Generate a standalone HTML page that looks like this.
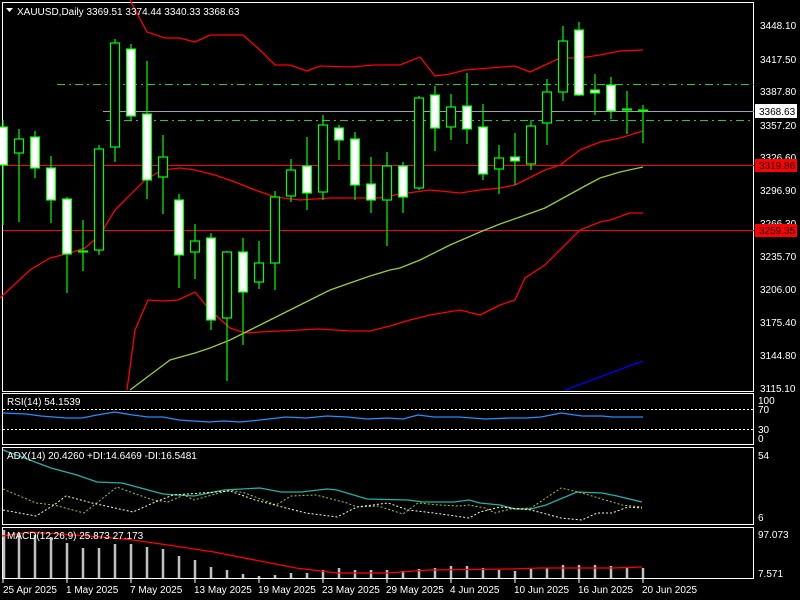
<!DOCTYPE html>
<html><head><meta charset="utf-8"><style>
html,body{margin:0;padding:0;background:#000;}
svg{display:block;font-family:"Liberation Sans",sans-serif;font-size:10px;}
</style></head><body>
<svg width="800" height="600" viewBox="0 0 800 600" xmlns="http://www.w3.org/2000/svg">
<rect width="800" height="600" fill="#000"/>
<!-- panel borders -->
<g fill="none" stroke="#fff" stroke-width="1">
<rect x="2.5" y="2.5" width="751" height="389"/>
<rect x="2.5" y="393.5" width="751" height="51"/>
<rect x="2.5" y="447.5" width="751" height="77"/>
<rect x="2.5" y="527.5" width="751" height="51"/>
</g>
<!-- horizontal levels -->
<line x1="103" y1="111.5" x2="754" y2="111.5" stroke="#a0a0a8" stroke-width="1"/>
<line x1="57" y1="84.5" x2="754" y2="84.5" stroke="#22cc22" stroke-dasharray="8,4,2,4"/>
<line x1="106" y1="120.5" x2="754" y2="120.5" stroke="#22cc22" stroke-dasharray="8,4,2,4"/>
<line x1="3" y1="165.5" x2="754" y2="165.5" stroke="#ff0000"/>
<line x1="3" y1="230.5" x2="754" y2="230.5" stroke="#ff0000"/>
<!-- bands -->
<g fill="none" stroke-width="1.3">
<polyline stroke="#ff0000" points="130,0 147,32 165,38 180,38 195,42 210,35 243,35 260,50 275,65 290,65 307,71 320,66 350,67 375,65 400,65 420,57 435,76 450,74 465,70 515,66 530,72 560,58 580,58 600,55 620,51 643,50"/>
<polyline stroke="#ff0000" points="0,298 30,270 50,258 70,253 85,248 100,235 115,210 125,200 145,180 162,170 180,168 195,170 215,175 235,182 255,190 275,197 300,200 330,198 380,198 400,194 430,190 460,193 480,190 500,188 515,185 545,170 560,165 580,150 600,142 620,138 643,131"/>
<polyline stroke="#ff0000" points="127,390 135,330 148,300 163,301 178,300 195,292 210,310 230,328 245,333 260,332 280,331 300,330 320,329 350,331 370,331 390,326 410,320 430,315 460,310 480,315 500,305 515,300 525,278 545,265 565,245 580,230 600,222 610,220 630,213 643,213"/>
<polyline stroke="#9acd32" points="130,390 150,375 170,360 195,353 210,348 230,340 250,330 270,320 290,310 310,300 330,290 350,283 370,276 390,270 400,268 420,260 450,245 480,232 500,224 520,217 545,208 565,197 585,186 600,178 620,172 643,167"/>
<polyline stroke="#0000ff" points="565,390 600,377 643,361"/>
</g>
<!-- candles -->
<g stroke="#00ff00" stroke-width="1.2">
<line x1="3" y1="120" x2="3" y2="225"/><rect x="-1.5" y="127" width="9" height="38" fill="#fff"/>
<line x1="19" y1="129" x2="19" y2="222"/><rect x="14.5" y="139" width="9" height="14" fill="#000"/>
<line x1="35" y1="131" x2="35" y2="178"/><rect x="30.5" y="137" width="9" height="31" fill="#fff"/>
<line x1="51" y1="156" x2="51" y2="223"/><rect x="46.5" y="168" width="9" height="32" fill="#fff"/>
<line x1="67" y1="197" x2="67" y2="293"/><rect x="62.5" y="199" width="9" height="55" fill="#fff"/>
<line x1="83" y1="220" x2="83" y2="271"/><rect x="78.5" y="251" width="9" height="1" fill="#000"/>
<line x1="99" y1="145" x2="99" y2="255"/><rect x="94.5" y="149" width="9" height="101" fill="#000"/>
<line x1="115" y1="39" x2="115" y2="162"/><rect x="110.5" y="43" width="9" height="104" fill="#000"/>
<line x1="131" y1="44" x2="131" y2="121"/><rect x="126.5" y="49" width="9" height="67" fill="#fff"/>
<line x1="147" y1="61" x2="147" y2="199"/><rect x="142.5" y="114" width="9" height="66" fill="#fff"/>
<line x1="163" y1="135" x2="163" y2="214"/><rect x="158.5" y="157" width="9" height="20" fill="#000"/>
<line x1="179" y1="194" x2="179" y2="288"/><rect x="174.5" y="200" width="9" height="55" fill="#fff"/>
<line x1="195" y1="224" x2="195" y2="279"/><rect x="190.5" y="241" width="9" height="11" fill="#000"/>
<line x1="211" y1="233" x2="211" y2="330"/><rect x="206.5" y="238" width="9" height="82" fill="#fff"/>
<line x1="227" y1="251" x2="227" y2="381"/><rect x="222.5" y="252" width="9" height="66" fill="#000"/>
<line x1="243" y1="238" x2="243" y2="345"/><rect x="238.5" y="252" width="9" height="40" fill="#fff"/>
<line x1="259" y1="241" x2="259" y2="289"/><rect x="254.5" y="263" width="9" height="19" fill="#000"/>
<line x1="275" y1="191" x2="275" y2="290"/><rect x="270.5" y="197" width="9" height="66" fill="#000"/>
<line x1="291" y1="159" x2="291" y2="202"/><rect x="286.5" y="170" width="9" height="26" fill="#000"/>
<line x1="307" y1="137" x2="307" y2="210"/><rect x="302.5" y="166" width="9" height="27" fill="#fff"/>
<line x1="323" y1="115" x2="323" y2="200"/><rect x="318.5" y="125" width="9" height="67" fill="#000"/>
<line x1="339" y1="125" x2="339" y2="160"/><rect x="334.5" y="128" width="9" height="12" fill="#fff"/>
<line x1="355" y1="132" x2="355" y2="200"/><rect x="350.5" y="139" width="9" height="46" fill="#fff"/>
<line x1="371" y1="157" x2="371" y2="213"/><rect x="366.5" y="184" width="9" height="16" fill="#fff"/>
<line x1="387" y1="152" x2="387" y2="246"/><rect x="382.5" y="166" width="9" height="34" fill="#000"/>
<line x1="403" y1="162" x2="403" y2="213"/><rect x="398.5" y="166" width="9" height="31" fill="#fff"/>
<line x1="419" y1="96" x2="419" y2="190"/><rect x="414.5" y="98" width="9" height="90" fill="#000"/>
<line x1="435" y1="86" x2="435" y2="151"/><rect x="430.5" y="95" width="9" height="33" fill="#fff"/>
<line x1="451" y1="94" x2="451" y2="140"/><rect x="446.5" y="107" width="9" height="20" fill="#000"/>
<line x1="467" y1="73" x2="467" y2="144"/><rect x="462.5" y="106" width="9" height="23" fill="#fff"/>
<line x1="483" y1="104" x2="483" y2="180"/><rect x="478.5" y="127" width="9" height="47" fill="#fff"/>
<line x1="499" y1="145" x2="499" y2="194"/><rect x="494.5" y="158" width="9" height="11" fill="#000"/>
<line x1="515" y1="133" x2="515" y2="185"/><rect x="510.5" y="157" width="9" height="4" fill="#fff"/>
<line x1="531" y1="120" x2="531" y2="170"/><rect x="526.5" y="126" width="9" height="38" fill="#000"/>
<line x1="547" y1="79" x2="547" y2="145"/><rect x="542.5" y="92" width="9" height="31" fill="#000"/>
<line x1="563" y1="26" x2="563" y2="101"/><rect x="558.5" y="41" width="9" height="51" fill="#000"/>
<line x1="579" y1="22" x2="579" y2="96"/><rect x="574.5" y="30" width="9" height="65" fill="#fff"/>
<line x1="595" y1="74" x2="595" y2="115"/><rect x="590.5" y="90" width="9" height="3" fill="#fff"/>
<line x1="611" y1="77" x2="611" y2="119"/><rect x="606.5" y="85" width="9" height="26" fill="#fff"/>
<line x1="627" y1="91" x2="627" y2="134"/><rect x="622.5" y="109" width="9" height="1" fill="#000"/>
<line x1="643" y1="105" x2="643" y2="143"/><rect x="638.5" y="110" width="9" height="1" fill="#000"/>
</g>
<!-- header -->
<polygon points="6,8 13,8 9.5,12" fill="#fff"/>
<text x="17" y="15" fill="#fff">XAUUSD,Daily  3369.51 3374.44 3340.33 3368.63</text>
<!-- price axis -->
<g fill="#fff">
<text x="760" y="29">3448.10</text>
<text x="760" y="63">3417.50</text>
<text x="760" y="95">3387.80</text>
<text x="760" y="129">3357.20</text>
<text x="760" y="161">3326.60</text>
<text x="760" y="194">3296.90</text>
<text x="760" y="227">3266.30</text>
<text x="760" y="260">3235.70</text>
<text x="760" y="293">3206.00</text>
<text x="760" y="326">3175.40</text>
<text x="760" y="359">3144.80</text>
<text x="760" y="392">3115.10</text>
</g>
<rect x="755" y="104" width="42" height="14" fill="#fff"/>
<text x="759" y="115" fill="#000">3368.63</text>
<rect x="755" y="159" width="42" height="13" fill="#ff0000"/>
<text x="759" y="169" fill="#000">3319.86</text>
<rect x="755" y="224" width="42" height="13" fill="#ff0000"/>
<text x="759" y="234" fill="#000">3259.35</text>
<!-- RSI -->
<text x="7" y="405" fill="#fff">RSI(14) 54.1539</text>
<line x1="3" y1="409.5" x2="753" y2="409.5" stroke="#fff" stroke-dasharray="2,2"/>
<line x1="3" y1="429.5" x2="753" y2="429.5" stroke="#fff" stroke-dasharray="2,2"/>
<polyline fill="none" stroke="#1e90ff" stroke-width="1.3" points="3,413 26,414 41,416 66,418 82,418 97,415 115,412 133,415 148,417 163,417 179,420 209,422 224,421 240,422 260,420 286,417 306,418 327,416 347,417 367,419 388,418 403,419 418,415 434,417 459,417 485,419 510,418 526,418 541,417 561,413 582,416 602,416 612,417 643,417"/>
<g fill="#fff"><text x="758" y="404">100</text><text x="758" y="413">70</text><text x="758" y="433">30</text><text x="758" y="442">0</text></g>
<!-- ADX -->
<polyline fill="none" stroke="#20b2aa" stroke-width="1.3" points="3,450 51,468 77,475 97,482 122,483 163,494 194,496 224,490 260,488 281,492 301,492 327,489 337,490 367,499 408,500 423,502 454,502 469,500 480,503 500,505 515,509 531,509 546,505 577,492 602,493 617,496 642,502"/>
<polyline fill="none" stroke="#9acd32" stroke-dasharray="2,2" points="3,489 36,503 54,505 84,513 117,487 133,493 153,500 168,502 184,495 194,500 230,490 245,493 276,505 291,496 316,495 347,503 357,507 378,506 403,514 418,503 439,505 459,506 469,505 485,508 495,513 510,509 531,508 561,488 582,493 622,505 642,507"/>
<polyline fill="none" stroke="#fffacd" stroke-dasharray="2,2" points="3,510 36,516 54,505 66,496 92,503 133,512 153,503 173,495 230,491 255,500 286,508 306,513 337,517 357,507 388,503 408,510 434,513 469,518 480,512 500,507 531,510 561,518 582,520 597,513 612,513 628,507 642,508"/>
<text x="7" y="459" fill="#fff">ADX(14) 20.4260 +DI:14.6469 -DI:16.5481</text>
<g fill="#fff"><text x="758" y="459">54</text><text x="758" y="521">6</text></g>
<!-- MACD -->
<g stroke="#c0c0c0" stroke-width="2.5">
<line x1="4" y1="578" x2="4" y2="530"/><line x1="19" y1="578" x2="19" y2="533"/><line x1="35" y1="578" x2="35" y2="535"/><line x1="51" y1="578" x2="51" y2="537"/><line x1="67" y1="578" x2="67" y2="543"/><line x1="83" y1="578" x2="83" y2="548"/><line x1="99" y1="578" x2="99" y2="548"/><line x1="115" y1="578" x2="115" y2="544"/><line x1="131" y1="578" x2="131" y2="544"/><line x1="147" y1="578" x2="147" y2="547"/><line x1="163" y1="578" x2="163" y2="549"/><line x1="179" y1="578" x2="179" y2="556"/><line x1="195" y1="578" x2="195" y2="560"/><line x1="211" y1="578" x2="211" y2="567"/><line x1="227" y1="578" x2="227" y2="570"/><line x1="243" y1="578" x2="243" y2="574"/><line x1="259" y1="578" x2="259" y2="576"/><line x1="275" y1="578" x2="275" y2="575"/><line x1="291" y1="578" x2="291" y2="573"/><line x1="307" y1="578" x2="307" y2="573"/><line x1="323" y1="578" x2="323" y2="570"/><line x1="339" y1="578" x2="339" y2="568"/><line x1="355" y1="578" x2="355" y2="570"/><line x1="371" y1="578" x2="371" y2="570"/><line x1="387" y1="578" x2="387" y2="570"/><line x1="403" y1="578" x2="403" y2="571"/><line x1="419" y1="578" x2="419" y2="569"/><line x1="435" y1="578" x2="435" y2="568"/><line x1="451" y1="578" x2="451" y2="566"/><line x1="467" y1="578" x2="467" y2="566"/><line x1="483" y1="578" x2="483" y2="568"/><line x1="499" y1="578" x2="499" y2="570"/><line x1="515" y1="578" x2="515" y2="571"/><line x1="531" y1="578" x2="531" y2="569"/><line x1="547" y1="578" x2="547" y2="568"/><line x1="563" y1="578" x2="563" y2="565"/><line x1="579" y1="578" x2="579" y2="565"/><line x1="595" y1="578" x2="595" y2="565"/><line x1="611" y1="578" x2="611" y2="566"/><line x1="627" y1="578" x2="627" y2="567"/><line x1="643" y1="578" x2="643" y2="568"/>
</g>
<polyline fill="none" stroke="#ff0000" stroke-width="1.3" points="2,536 31,532 102,537 133,540 168,545 214,552 265,562 296,568 337,573 388,573 429,570 510,569 541,568 612,568 642,567"/>
<text x="7" y="539" fill="#fff">MACD(12,26,9) 25.873 27.173</text>
<g fill="#fff"><text x="758" y="538">97.073</text><text x="758" y="577">7.571</text></g>
<!-- date axis -->
<g stroke="#fff"><line x1="3" y1="579" x2="3" y2="583"/><line x1="67" y1="579" x2="67" y2="583"/><line x1="131" y1="579" x2="131" y2="583"/><line x1="195" y1="579" x2="195" y2="583"/><line x1="259" y1="579" x2="259" y2="583"/><line x1="323" y1="579" x2="323" y2="583"/><line x1="387" y1="579" x2="387" y2="583"/><line x1="451" y1="579" x2="451" y2="583"/><line x1="515" y1="579" x2="515" y2="583"/><line x1="579" y1="579" x2="579" y2="583"/><line x1="643" y1="579" x2="643" y2="583"/></g>
<g fill="#fff">
<text x="3" y="593">25 Apr 2025</text><text x="66" y="593">1 May 2025</text><text x="130" y="593">7 May 2025</text><text x="194" y="593">13 May 2025</text><text x="258" y="593">19 May 2025</text><text x="322" y="593">23 May 2025</text><text x="386" y="593">29 May 2025</text><text x="450" y="593">4 Jun 2025</text><text x="514" y="593">10 Jun 2025</text><text x="578" y="593">16 Jun 2025</text><text x="642" y="593">20 Jun 2025</text>
</g>
</svg>
</body></html>
